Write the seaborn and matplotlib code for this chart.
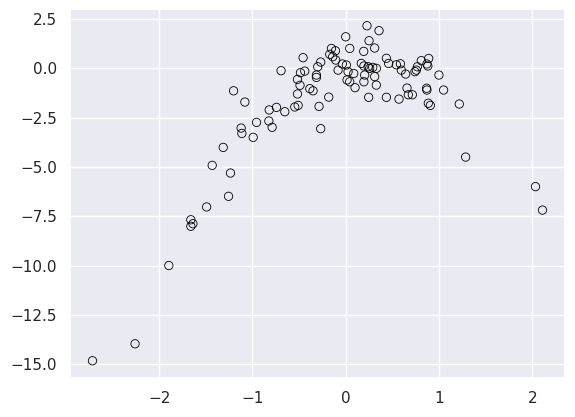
import matplotlib
matplotlib.use("Agg")
import matplotlib.pyplot as plt
import seaborn as sns
import pandas as pd

x_vals = [
    -2.714, -2.258, -1.896, -1.66, -1.638, -1.66, -1.491, -1.256, -1.235, -1.431,
    -1.313, -0.992, -1.113, -1.121, -0.956, -1.081, -1.202, -0.824, -0.789, -0.82,
    -0.742, -0.653, -0.546, -0.51, -0.286, -0.268, -0.182, -0.35, -0.385, -0.517,
    -0.49, -0.517, -0.314, -0.314, -0.485, -0.439, -0.693, -0.457, -0.30, -0.268,
    -0.107, -0.139, -0.171, -0.11, -0.153, 0.0, 0.043, -0.082, -0.036, 0.007,
    0.10, 0.014, 0.043, 0.086, 0.025, 0.228, 0.357, 0.25, 0.31, 0.193,
    0.167, 0.195, 0.24, 0.257, 0.29, 0.328, 0.203, 0.195, 0.31, 0.328,
    0.246, 0.436, 0.571, 0.657, 0.671, 0.714, 0.436, 0.46, 0.543, 0.586,
    0.596, 0.642, 0.742, 0.757, 0.768, 0.81, 0.87, 0.889, 0.88, 0.867,
    0.87, 0.885, 0.907, 0.999, 1.049, 1.217, 1.285, 2.034, 2.109,
]
y_vals = [
    -14.83, -13.97, -10.0, -7.68, -7.88, -8.01, -7.03, -6.49, -5.31, -4.92,
    -4.01, -3.50, -3.30, -3.03, -2.74, -1.71, -1.14, -2.67, -2.99, -2.11,
    -1.98, -2.20, -1.96, -1.88, -1.93, -3.06, -1.46, -1.14, -1.03, -1.30,
    -0.86, -0.56, -0.34, -0.46, -0.22, -0.14, -0.12, 0.54, 0.08, 0.32,
    0.42, 0.59, 0.71, 0.89, 1.01, 1.60, 1.01, -0.09, 0.22, 0.17,
    -0.98, -0.59, -0.68, -0.26, -0.17, 2.16, 1.91, 1.40, 1.03, 0.86,
    0.25, 0.12, 0.08, 0.0, 0.05, 0.0, -0.34, -0.68, -0.42, -0.85,
    -1.47, -1.47, -1.56, -1.00, -1.34, -1.34, 0.51, 0.25, 0.18, 0.23,
    -0.09, -0.29, -0.17, -0.09, 0.08, 0.39, 0.22, 0.50, 0.12, -1.01,
    -1.10, -1.77, -1.88, -0.34, -1.10, -1.81, -4.50, -6.00, -7.19,
]

df = pd.DataFrame({"x": x_vals, "y": y_vals})

sns.set_theme(style="darkgrid")
fig = plt.figure(figsize=(5.75, 4.17), dpi=100)
ax = fig.add_axes([70 / 575, 1 - 377.5 / 417, (565 - 70) / 575, (377.5 - 9) / 417])
sns.scatterplot(data=df, x="x", y="y", ax=ax, facecolor="none",
                edgecolor="black", s=36, linewidth=0.6)
ax.set_xlabel("")
ax.set_ylabel("")
fig.savefig("out.png", dpi=100)
